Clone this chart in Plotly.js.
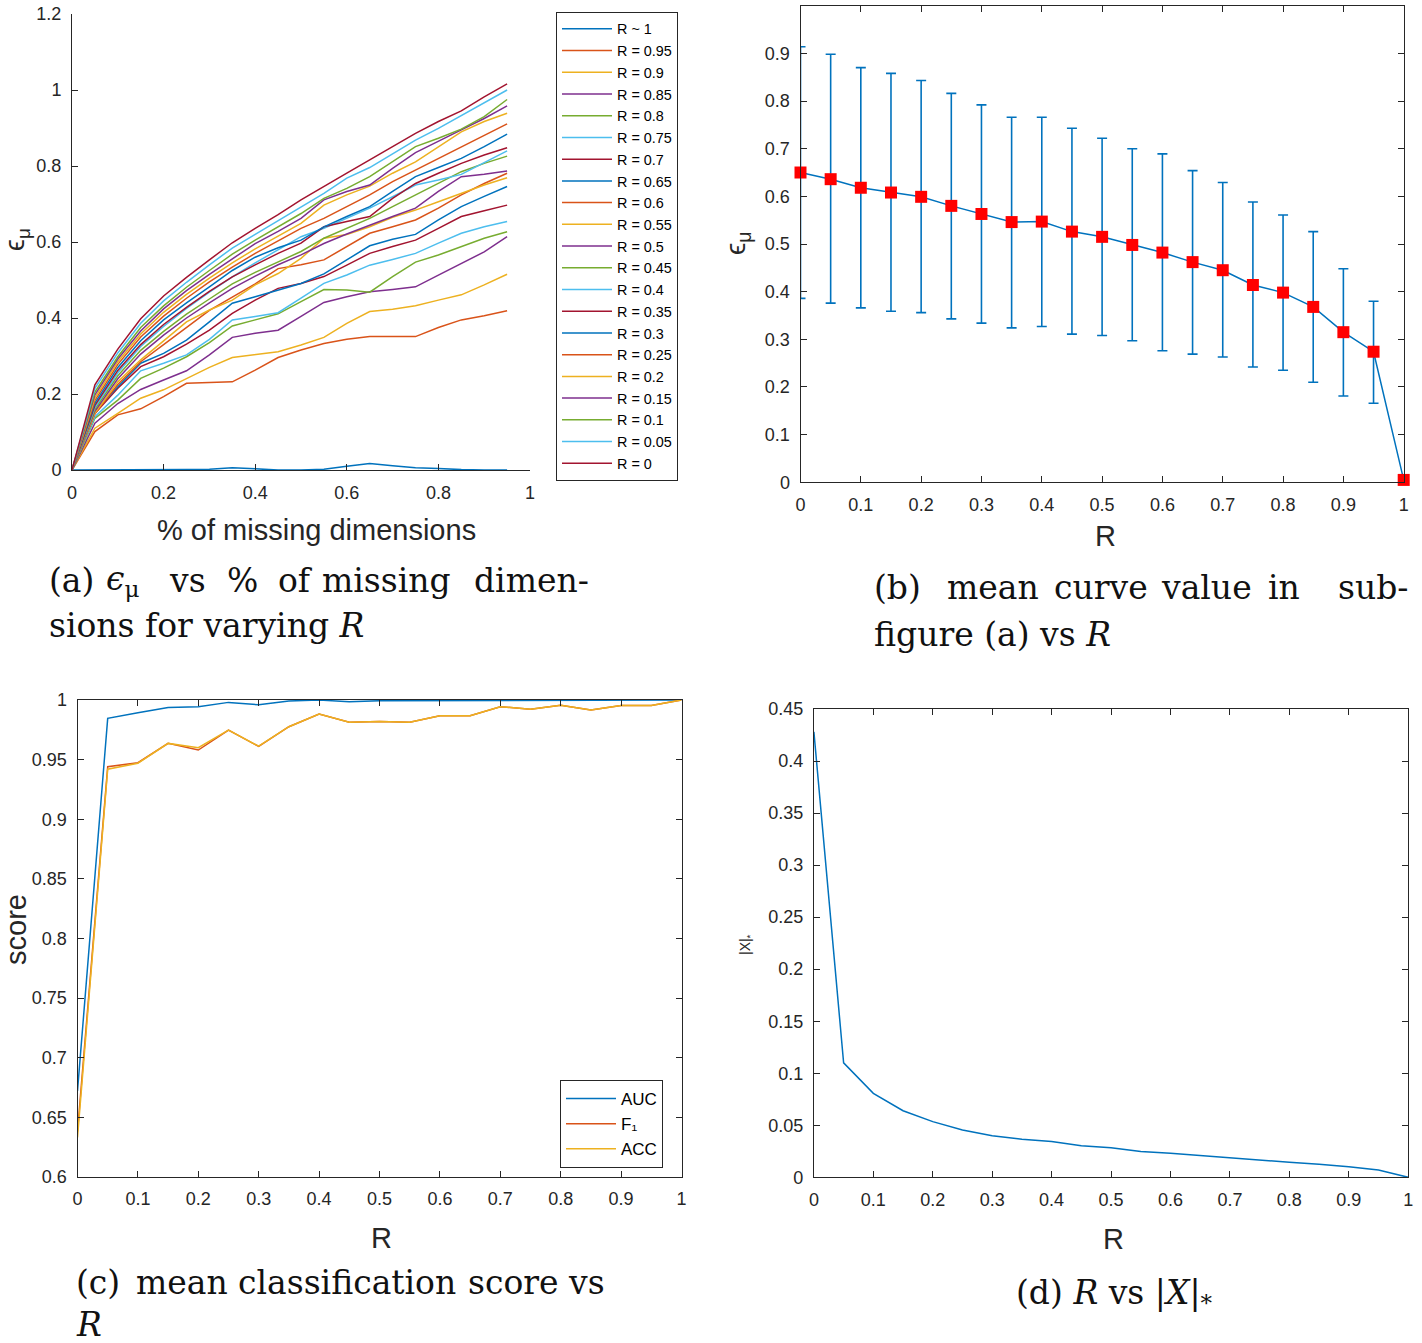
<!DOCTYPE html>
<html>
<head>
<meta charset="utf-8">
<script src="https://cdn.plot.ly/plotly-3.0.1.min.js"></script>
<style>html,body{margin:0;padding:0;background:#fff;}</style>
</head>
<body>
<div id="chart" style="width:1422px;height:1343px;"></div>
<script>
// ---------- (a) eps_mu vs % of missing dimensions ----------
const missingFrac = [0,0.05,0.1,0.15,0.2,0.25,0.3,0.35,0.4,0.45,0.5,0.55,0.6,0.65,0.7,0.75,0.8,0.85,0.9,0.95];
const curveNames = ['R ~ 1','R = 0.95','R = 0.9','R = 0.85','R = 0.8','R = 0.75','R = 0.7','R = 0.65','R = 0.6','R = 0.55','R = 0.5','R = 0.45','R = 0.4','R = 0.35','R = 0.3','R = 0.25','R = 0.2','R = 0.15','R = 0.1','R = 0.05','R = 0'];
const epsR100 = [0,0,0,0,0,0.001,0.002,0.006,0.003,0,0,0.002,0.010,0.017,0.011,0.006,0.004,0.001,0,0];
const epsR095 = [0,0.101,0.145,0.161,0.193,0.228,0.230,0.232,0.263,0.296,0.316,0.333,0.344,0.351,0.351,0.351,0.375,0.395,0.406,0.419];
const epsR090 = [0,0.110,0.149,0.189,0.211,0.241,0.270,0.296,0.303,0.311,0.329,0.349,0.386,0.417,0.423,0.432,0.447,0.461,0.487,0.515];
const epsR085 = [0,0.123,0.175,0.212,0.237,0.261,0.303,0.349,0.360,0.368,0.404,0.441,0.456,0.469,0.475,0.482,0.513,0.544,0.574,0.614];
const epsR080 = [0,0.136,0.184,0.241,0.268,0.298,0.335,0.379,0.395,0.411,0.443,0.475,0.474,0.468,0.509,0.547,0.566,0.588,0.610,0.627];
const epsR075 = [0,0.140,0.197,0.261,0.281,0.303,0.344,0.395,0.404,0.414,0.452,0.491,0.513,0.539,0.554,0.570,0.597,0.623,0.640,0.654];
const epsR070 = [0,0.149,0.215,0.272,0.298,0.331,0.368,0.412,0.447,0.478,0.491,0.509,0.539,0.570,0.588,0.605,0.636,0.667,0.682,0.697];
const epsR065 = [0,0.154,0.219,0.281,0.307,0.342,0.390,0.439,0.456,0.474,0.491,0.516,0.553,0.590,0.607,0.620,0.658,0.693,0.720,0.746];
const epsR060 = [0,0.148,0.225,0.285,0.330,0.375,0.420,0.455,0.490,0.530,0.540,0.553,0.588,0.623,0.640,0.658,0.689,0.724,0.754,0.781];
const epsR055 = [0,0.150,0.232,0.290,0.340,0.390,0.421,0.447,0.487,0.517,0.557,0.610,0.620,0.640,0.665,0.684,0.706,0.728,0.750,0.769];
const epsR050 = [0,0.155,0.240,0.305,0.355,0.400,0.440,0.478,0.510,0.540,0.566,0.596,0.621,0.645,0.667,0.689,0.733,0.772,0.778,0.787];
const epsR045 = [0,0.160,0.248,0.315,0.365,0.410,0.450,0.490,0.520,0.548,0.575,0.610,0.636,0.662,0.693,0.724,0.754,0.785,0.807,0.826];
const epsR040 = [0,0.165,0.256,0.325,0.378,0.425,0.468,0.508,0.545,0.580,0.614,0.636,0.662,0.689,0.719,0.750,0.763,0.778,0.809,0.840];
const epsR035 = [0,0.170,0.262,0.330,0.383,0.428,0.470,0.508,0.540,0.570,0.597,0.640,0.654,0.667,0.715,0.754,0.781,0.807,0.829,0.848];
const epsR030 = [0,0.176,0.270,0.340,0.395,0.440,0.482,0.525,0.560,0.585,0.605,0.640,0.667,0.693,0.733,0.772,0.796,0.820,0.851,0.884];
const epsR025 = [0,0.183,0.278,0.350,0.405,0.452,0.495,0.534,0.570,0.603,0.636,0.662,0.693,0.724,0.759,0.789,0.820,0.851,0.881,0.911];
const epsR020 = [0,0.190,0.285,0.358,0.415,0.462,0.505,0.545,0.582,0.615,0.649,0.697,0.724,0.747,0.781,0.811,0.851,0.890,0.917,0.939];
const epsR015 = [0,0.198,0.292,0.366,0.424,0.472,0.515,0.556,0.596,0.628,0.662,0.711,0.733,0.750,0.794,0.835,0.864,0.895,0.925,0.958];
const epsR010 = [0,0.205,0.298,0.375,0.432,0.481,0.525,0.568,0.605,0.640,0.675,0.715,0.741,0.772,0.811,0.851,0.873,0.897,0.930,0.975];
const epsR005 = [0,0.215,0.308,0.386,0.445,0.494,0.540,0.584,0.620,0.656,0.693,0.728,0.768,0.796,0.832,0.868,0.899,0.932,0.965,1.000];
const epsR000 = [0,0.224,0.318,0.398,0.458,0.507,0.553,0.598,0.636,0.672,0.711,0.747,0.781,0.816,0.851,0.886,0.917,0.945,0.982,1.016];

// ---------- (b) mean curve value vs R ----------
const rValues = [0,0.05,0.1,0.15,0.2,0.25,0.3,0.35,0.4,0.45,0.5,0.55,0.6,0.65,0.7,0.75,0.8,0.85,0.9,0.95,1];
const meanEps  = [0.650,0.636,0.618,0.608,0.599,0.580,0.563,0.546,0.547,0.526,0.515,0.498,0.482,0.462,0.445,0.414,0.398,0.368,0.315,0.274,0.005];
const upperEps = [0.914,0.898,0.870,0.858,0.843,0.816,0.792,0.766,0.766,0.743,0.722,0.700,0.689,0.654,0.629,0.588,0.561,0.526,0.448,0.380,0.005];
const lowerEps = [0.386,0.376,0.366,0.359,0.356,0.343,0.334,0.324,0.327,0.311,0.308,0.297,0.276,0.269,0.263,0.242,0.235,0.210,0.181,0.166,0.005];

// ---------- (c) mean classification score vs R ----------
const aucScore = [0.672,0.9846,0.9894,0.9938,0.9944,0.998,0.996,0.9992,0.9999,0.9986,0.9994,0.9995,0.9997,0.9997,0.9998,0.9998,0.9999,0.9998,0.9999,0.9999,1.0];
const f1Score  = [0.638,0.944,0.9474,0.9636,0.958,0.9748,0.961,0.9776,0.9883,0.9813,0.982,0.9813,0.9868,0.9868,0.9944,0.9922,0.9955,0.9916,0.9953,0.9953,1.0];
const accScore = [0.633,0.942,0.947,0.9636,0.960,0.9748,0.9612,0.9776,0.9883,0.9813,0.982,0.9813,0.9868,0.9868,0.9944,0.9922,0.9955,0.9916,0.9953,0.9953,1.0];
const scoreNames = ['AUC','F\u2081','ACC'];

// ---------- (d) R vs |X|_* ----------
const nuclearNorm = [0.428,0.110,0.0807,0.064,0.0535,0.0455,0.0400,0.0365,0.0343,0.0304,0.0285,0.0247,0.0231,0.0208,0.0183,0.0167,0.0144,0.0125,0.0102,0.0070,0.0];

// ---------- styling ----------
const W = 1422, H = 1343;
const mcolors = ['#0072BD','#D95319','#EDB120','#7E2F8E','#77AC30','#4DBEEE','#A2142F'];
const AXC = '#262626';
const SANS = 'Liberation Sans, Arial, Helvetica, sans-serif';
const SERIF = 'DejaVu Serif, serif';

const curves = [epsR100,epsR095,epsR090,epsR085,epsR080,epsR075,epsR070,epsR065,epsR060,epsR055,epsR050,
                epsR045,epsR040,epsR035,epsR030,epsR025,epsR020,epsR015,epsR010,epsR005,epsR000];

const traces = [];
curves.forEach((ys, i) => {
  traces.push({type:'scatter', mode:'lines', x: missingFrac, y: ys, name: curveNames[i],
    xaxis:'x', yaxis:'y', legend:'legend',
    line:{color: mcolors[i % 7], width:1.5}, hoverinfo:'skip'});
});

// (b)
traces.push({type:'scatter', mode:'lines', x: rValues, y: meanEps, xaxis:'x2', yaxis:'y2', showlegend:false,
  line:{color:'#0072BD', width:1.5},
  error_y:{type:'data', symmetric:false,
    array: upperEps.map((u,i)=>u-meanEps[i]),
    arrayminus: lowerEps.map((l,i)=>meanEps[i]-l),
    color:'#0072BD', thickness:1.6, width:5}, hoverinfo:'skip'});
traces.push({type:'scatter', mode:'markers', x: rValues, y: meanEps, xaxis:'x2', yaxis:'y2', showlegend:false,
  cliponaxis:false,
  marker:{symbol:'square', size:12, color:'#FF0000', line:{width:0}}, hoverinfo:'skip'});

// (c)
[aucScore, f1Score, accScore].forEach((ys, i) => {
  traces.push({type:'scatter', mode:'lines', x: rValues, y: ys, name: scoreNames[i],
    xaxis:'x3', yaxis:'y3', legend:'legend2',
    line:{color: mcolors[i], width:1.5}, hoverinfo:'skip'});
});

// (d)
traces.push({type:'scatter', mode:'lines', x: rValues, y: nuclearNorm, xaxis:'x4', yaxis:'y4', showlegend:false,
  line:{color:'#0072BD', width:1.5}, hoverinfo:'skip'});

function ax(extra){
  return Object.assign({
    showgrid:false, zeroline:false, showline:true, linecolor:AXC, linewidth:1,
    ticks:'inside', ticklen:6, tickwidth:1, tickcolor:AXC,
    tickfont:{family:SANS, size:18, color:AXC}, ticklabelstandoff:6,
    fixedrange:true
  }, extra);
}
const px = v => v / W;
const py = v => 1 - v / H;

function ann(text, x, y, font, extra){
  return Object.assign({text, x: px(x), y: py(y), xref:'paper', yref:'paper', showarrow:false,
    xanchor:'center', yanchor:'middle', font}, extra || {});
}
const titleFont = {family:SANS, size:29, color:AXC};
const capFont = {family:SERIF, size:33, color:'#111111'};
const capL = (t, x, y) => ann(t, x, y, capFont, {xanchor:'left'});

const annotations = [
  // axis titles
  ann('% of missing dimensions', 316, 530, titleFont),
  ann('ϵ<sub>μ</sub>', 17, 240, {family:SANS, size:27, color:AXC}, {textangle:-90}),
  ann('ϵ<sub>μ</sub>', 737, 243, {family:SANS, size:28, color:AXC}, {textangle:-90}),
  ann('R', 1105, 536, titleFont),
  ann('score', 16, 930, titleFont, {textangle:-90}),
  ann('R', 381, 1238, titleFont),
  ann('R', 1113, 1239, titleFont),
  ann('|X|<sub>*</sub>', 746, 945, {family:SANS, size:14, color:AXC}, {textangle:-90}),
  // caption (a)
  capL('(a)', 47, 580), capL('<i>ϵ</i><sub>μ</sub>', 104, 580), capL('vs', 167, 580), capL('%', 225, 580),
  capL('of', 276, 580), capL('missing', 320, 580), capL('dimen-', 472, 580),
  capL('sions for varying <i>R</i>', 47, 625),
  // caption (b)
  capL('(b)', 872, 587), capL('mean', 945, 587), capL('curve', 1052, 587), capL('value', 1159, 587),
  capL('in', 1266, 587), capL('sub-', 1336, 587),
  capL('figure (a) vs <i>R</i>', 872, 634),
  // caption (c)
  capL('(c)', 74, 1282), capL('mean', 134, 1282), capL('classification', 236, 1282),
  capL('score', 466, 1282), capL('vs', 566, 1282),
  capL('<i>R</i>', 74, 1324),
  // caption (d)
  ann('(d) <i>R</i> vs |<i>X</i>|<sub>*</sub>', 1114, 1294, capFont)
];

const layout = {
  width: W, height: H,
  margin:{l:0, r:0, t:0, b:0},
  paper_bgcolor:'#ffffff', plot_bgcolor:'#ffffff',
  font:{family:SANS, color:AXC, size:18},
  showlegend:true,
  xaxis: ax({domain:[px(72), px(530)], range:[0,1], tickvals:[0,0.2,0.4,0.6,0.8,1], anchor:'y', mirror:false}),
  yaxis: ax({domain:[py(470), py(14)], range:[0,1.2], tickvals:[0,0.2,0.4,0.6,0.8,1,1.2], anchor:'x', mirror:false}),
  xaxis2: ax({domain:[px(800.5), px(1403.7)], range:[0,1], dtick:0.1, tick0:0, anchor:'y2', mirror:'ticks'}),
  yaxis2: ax({domain:[py(482.3), py(5.7)], range:[0,1], dtick:0.1, tick0:0, anchor:'x2', mirror:'ticks'}),
  xaxis3: ax({domain:[px(77.5), px(681.5)], range:[0,1], dtick:0.1, tick0:0, anchor:'y3', mirror:'ticks'}),
  yaxis3: ax({domain:[py(1176.8), py(700)], range:[0.6,1], dtick:0.05, tick0:0.6, anchor:'x3', mirror:'ticks'}),
  xaxis4: ax({domain:[px(813.9), px(1408.2)], range:[0,1], dtick:0.1, tick0:0, anchor:'y4', mirror:'ticks'}),
  yaxis4: ax({domain:[py(1177.3), py(709)], range:[0,0.45], dtick:0.05, tick0:0, anchor:'x4', mirror:'ticks'}),
  legend:{x:px(556), y:py(12), xanchor:'left', yanchor:'top', bgcolor:'#ffffff',
    bordercolor:AXC, borderwidth:1, font:{family:SANS, size:14.4, color:'#000000'},
    itemwidth:50, tracegroupgap:0, traceorder:'normal'},
  legend2:{x:px(560), y:py(1080), xanchor:'left', yanchor:'top', bgcolor:'#ffffff',
    bordercolor:AXC, borderwidth:1, font:{family:SANS, size:17, color:'#000000'},
    itemwidth:50, tracegroupgap:0, traceorder:'normal'},
  annotations
};

Plotly.newPlot('chart', traces, layout, {staticPlot:true, displayModeBar:false});
</script>
</body>
</html>
